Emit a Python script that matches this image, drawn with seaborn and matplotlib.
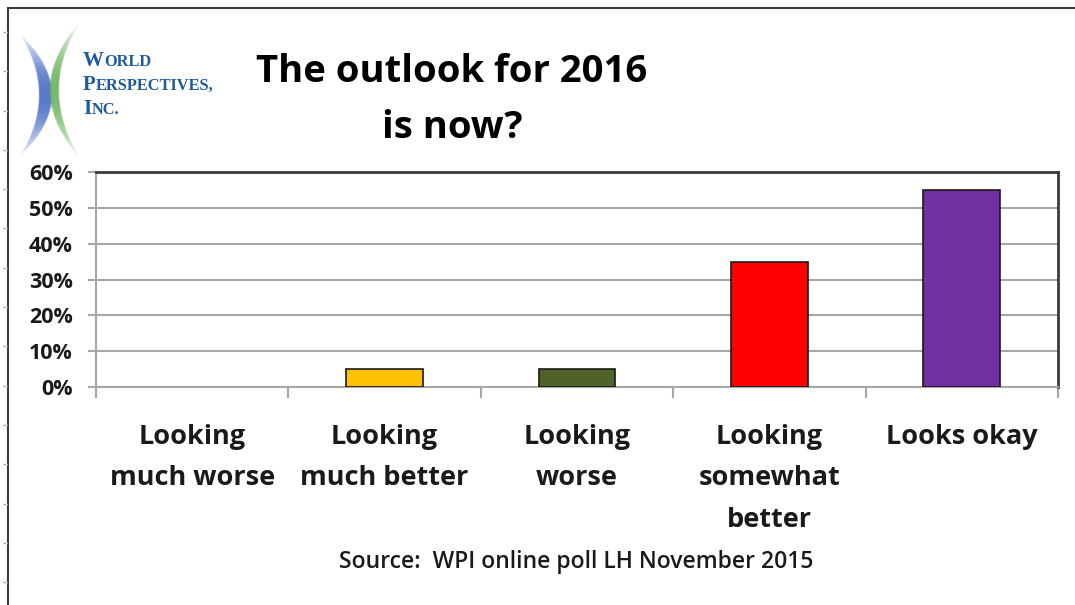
import matplotlib
matplotlib.use("Agg")
import matplotlib.pyplot as plt
import seaborn as sns
import pandas as pd
import numpy as np
from matplotlib.lines import Line2D
from matplotlib.colors import to_rgb

categories = ["Looking\nmuch worse", "Looking\nmuch better", "Looking\nworse",
              "Looking\nsomewhat\nbetter", "Looks okay"]
values = [0, 5, 5, 35, 55]
colors = ["#4472C4", "#FFC000", "#4F6228", "#FF0000", "#7030A0"]
yticks = [0, 10, 20, 30, 40, 50, 60]
ytick_labels = ["0%", "10%", "20%", "30%", "40%", "50%", "60%"]
title = "The outlook for 2016\nis now?"
source = "Source:  WPI online poll LH November 2015"
logo_lines = [("W", "ORLD"), ("P", "ERSPECTIVES,"), ("I", "NC.")]

sns.set_style("white")
plt.rcParams["font.family"] = ["Open Sans", "DejaVu Sans"]

W, H = 1075, 605
fig = plt.figure(figsize=(W / 100, H / 100), dpi=100)
ax = fig.add_axes([96 / W, 1 - 387 / H, (1058 - 96) / W, (387 - 172) / H])

df = pd.DataFrame({"cat": categories, "val": values})
sns.barplot(data=df, x="cat", y="val", hue="cat", palette=colors, width=0.4,
            saturation=1, edgecolor="#1a1a1a", linewidth=1.2, legend=False, ax=ax, zorder=3)
for p in ax.patches:
    if p.get_height() == 0:
        p.set_visible(False)

ax.set_ylim(0, 60)
ax.set_xlim(-0.5, len(categories) - 0.5)
ax.set_yticks(yticks)
ax.set_yticklabels(ytick_labels, fontsize=15.5, fontweight="bold", color="#1a1a1a")
ax.yaxis.grid(True, color="#a6a6a6", linewidth=1.5, zorder=0)
ax.set_axisbelow(True)
ax.set_xlabel("")
ax.set_ylabel("")

# category tick marks between categories
ax.set_xticks(np.arange(-0.5, len(categories) + 0.5, 1.0))
ax.set_xticklabels([""] * (len(categories) + 1))
ax.set_xticks(np.arange(len(categories)), minor=True)
ax.set_xticklabels(categories, minor=True, fontsize=19.5, fontweight="bold",
                   color="#1a1a1a", linespacing=1.78, va="top")
ax.tick_params(axis="x", which="major", length=8, width=1.5, color="#a6a6a6", direction="out", bottom=True)
ax.tick_params(axis="x", which="minor", length=0, pad=26.5)
ax.tick_params(axis="y", length=5.8, width=1.5, color="#a6a6a6", direction="out", left=True, pad=11)

for s in ["left", "bottom"]:
    ax.spines[s].set_color("#a6a6a6")
    ax.spines[s].set_linewidth(1.5)
for s in ["top", "right"]:
    ax.spines[s].set_color("#3a3a3a")
    ax.spines[s].set_linewidth(2)

# title
fig.text(452 / W, 1 - 100 / H, title, ha="center", va="center", fontsize=27.5,
         fontweight="bold", color="#000000", linespacing=1.64)

# source
fig.text(576 / W, 1 - 562 / H, source, ha="center", va="center", fontsize=16.5,
         fontweight="semibold", color="#1a1a1a")

# outer frame (top and left)
fig.add_artist(Line2D([8 / W, 1], [1 - 8 / H, 1 - 8 / H], transform=fig.transFigure,
                      color="#3a3a3a", linewidth=1.5))
fig.add_artist(Line2D([8 / W, 8 / W], [0, 1 - 8 / H], transform=fig.transFigure,
                      color="#3a3a3a", linewidth=1.5))
for yy in np.arange(32, 605, 39.3):
    fig.add_artist(Line2D([3 / W, 7 / W], [1 - yy / H, 1 - yy / H], transform=fig.transFigure,
                          color="#bbbbbb", linewidth=1))

# logo (pixel coordinates inside a helper axes)
lax = fig.add_axes([0, 0, 1, 1])
lax.set_xlim(0, W)
lax.set_ylim(H, 0)
lax.axis("off")

x0, x1, y0, y1 = 0, 100, 15, 170
gx = np.linspace(x0, x1, 300)
gy = np.linspace(y0, y1, 465)
X, Y = np.meshgrid(gx, gy)


def crescent(X, Y, yc, h, xend, inner, outer, sign):
    u = (Y - yc) / h
    k = np.clip(1 - u ** 2, 0, 1)
    a_edge = xend + sign * inner * k
    b_edge = xend + sign * outer * k
    lo = np.minimum(a_edge, b_edge)
    hi = np.maximum(a_edge, b_edge)
    soft = 1.2
    m = np.clip((X - lo) / soft + 0.5, 0, 1) * np.clip((hi - X) / soft + 0.5, 0, 1)
    m = m * (np.abs(u) < 1)
    return m * (0.12 + 0.8 * k ** 1.3)


ab = crescent(X, Y, 95, 61, 20, 19, 32, 1)
ag = crescent(X, Y, 90, 68, 80, 30, 21, -1)
cb = np.array(to_rgb("#4a6cc4"))
cg = np.array(to_rgb("#6cb35e"))
a_out = ag + ab * (1 - ag)
rgb = (cg[None, None, :] * ag[..., None] + cb[None, None, :] * (ab * (1 - ag))[..., None])
rgb = np.where(a_out[..., None] > 0, rgb / np.maximum(a_out[..., None], 1e-6), 1.0)
img = np.dstack([rgb, a_out])
lax.imshow(img, extent=(x0, x1, y1, y0), aspect="auto", interpolation="bilinear", zorder=1)
lax.set_xlim(0, W)
lax.set_ylim(H, 0)

logo_blue = "#1f5a9e"
fig.canvas.draw()
renderer = fig.canvas.get_renderer()
baselines = [66, 90, 114]
for (big, small), yb in zip(logo_lines, baselines):
    t = lax.text(83, yb, big, fontsize=15, family="Liberation Serif", color=logo_blue,
                 va="baseline", ha="left", fontweight="bold")
    bb = t.get_window_extent(renderer)
    lax.text(83 + bb.width + 0.5, yb, small, fontsize=11.8, family="Liberation Serif",
             color=logo_blue, va="baseline", ha="left", fontweight="bold")

fig.savefig("out.png", dpi=100, facecolor="white")
